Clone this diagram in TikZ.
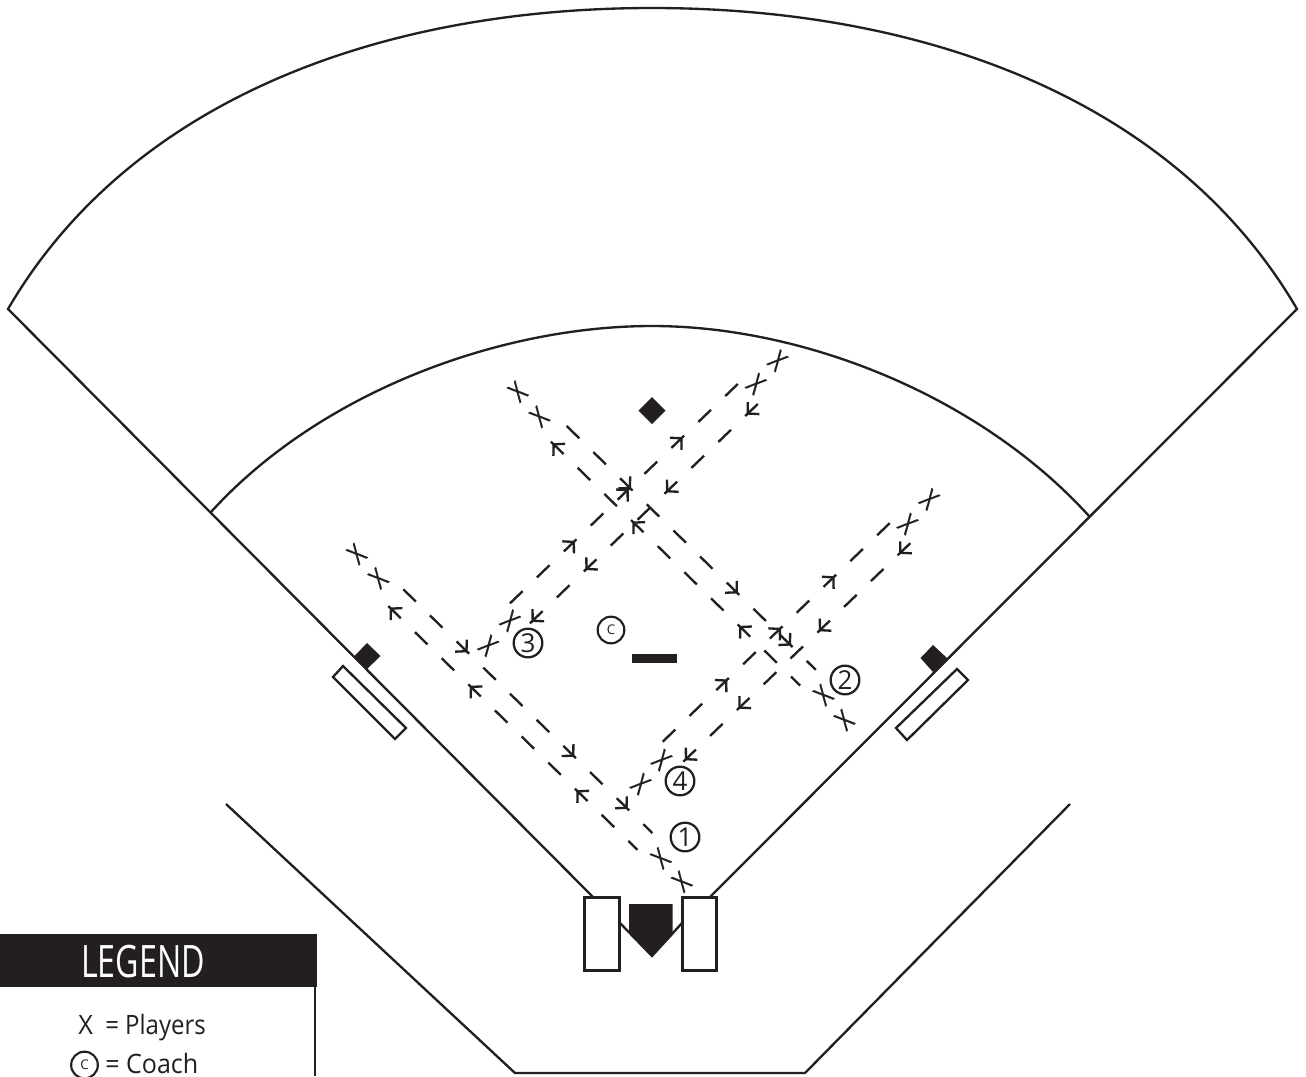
\documentclass[tikz,border=0pt]{standalone}
\usepackage{fontspec}
\setmainfont{Open Sans}
\newfontfamily\markfont[FakeBold=0.6]{Open Sans}
\definecolor{ink}{HTML}{231F20}
\tikzset{
  field/.style={draw=ink,line width=1.75pt,line join=miter},
  solidbase/.style={fill=ink,draw=none},
  dashseg/.style={draw=ink,line width=1.75pt},
  playerl/.style={text=ink,inner sep=0pt,font=\markfont\fontsize{21pt}{21pt}\selectfont,rotate=42},
  playerr/.style={text=ink,inner sep=0pt,font=\markfont\fontsize{21pt}{21pt}\selectfont,rotate=-42},
  station/.style={circle,draw=ink,line width=1.7pt,text=ink,minimum size=21.5pt,inner sep=0pt,font=\fontsize{19.5pt}{19.5pt}\selectfont},
  coachmark/.style={circle,draw=ink,line width=1.6pt,text=ink,minimum size=20pt,inner sep=0pt,font=\fontsize{10pt}{10pt}\selectfont},
  legendtext/.style={text=ink,inner sep=0pt,anchor=base west,font=\fontsize{20pt}{20pt}\selectfont}
}
\newcommand\setrun[4]{\def\rx{#1}\def\ry{#2}\def\tx{#3}\def\ty{#4}}
\newcommand\plainD[1]{\foreach \i in {#1}{\draw[dashseg] ({\rx+\i*\tx},{\ry+\i*\ty}) -- ++({.47*\tx},{.47*\ty});}}
\newcommand\shortD[1]{\foreach \i in {#1}{\draw[dashseg] ({\rx+\i*\tx},{\ry+\i*\ty}) -- ++({.34*\tx},{.34*\ty});}}
% arrow whose tip is the far end of the dash: barbs meet the stem a little behind the tip
\newcommand\tipF[1]{\foreach \i in {#1}{%
  \draw[dashseg] ({\rx+\i*\tx},{\ry+\i*\ty}) -- ++({.47*\tx},{.47*\ty});
  \draw[dashseg] ({\rx+(\i+.47-.31)*\tx-.225*\ty},{\ry+(\i+.47-.31)*\ty+.225*\tx}) -- ({\rx+(\i+.47-.1)*\tx},{\ry+(\i+.47-.1)*\ty}) -- ({\rx+(\i+.47-.31)*\tx+.225*\ty},{\ry+(\i+.47-.31)*\ty-.225*\tx});}}
% arrow whose tip is the near end of the dash
\newcommand\tipB[1]{\foreach \i in {#1}{%
  \draw[dashseg] ({\rx+\i*\tx},{\ry+\i*\ty}) -- ++({.47*\tx},{.47*\ty});
  \draw[dashseg] ({\rx+(\i+.31)*\tx-.225*\ty},{\ry+(\i+.31)*\ty+.225*\tx}) -- ({\rx+(\i+.1)*\tx},{\ry+(\i+.1)*\ty}) -- ({\rx+(\i+.31)*\tx+.225*\ty},{\ry+(\i+.31)*\ty-.225*\tx});}}
\newcommand\xglyph{\scalebox{.78}[1]{X}}
\begin{document}
\begin{tikzpicture}[x=.75pt,y=-.75pt]
\useasboundingbox (0,0) rectangle (1306,1076);
\clip (0,0) rectangle (1306,1076);
\fill[white] (0,0) rectangle (1306,1076);
% outfield boundary and foul lines
\draw[field] (593,897) -- (8,309)
  .. controls (130,100) and (380,8) .. (652,8)
  .. controls (925,8) and (1175,100) .. (1297,309)
  -- (710,897);
% infield arc
\draw[field] (211,512) .. controls (320,392) and (500,326) .. (652,326)
  .. controls (804,326) and (980,396) .. (1089,516);
% backstop
\draw[field] (226,804) -- (515,1073) -- (805,1073) -- (1070,804);
% home plate area
\draw[field] (620,923) -- (652,956) -- (682,923);
\fill[solidbase] (629,904) -- (672.5,904) -- (672.5,935) -- (652,956) -- (629,933) -- cycle;
\draw[field] (584.5,897.5) rectangle (619.5,970.5);
\draw[field] (682.5,897.5) rectangle (716.5,970.5);
% bases, coach boxes, rubber
\fill[solidbase] (652,397) -- (665.5,410.5) -- (652,424) -- (638.5,410.5) -- cycle;
\fill[solidbase] (367,643) -- (380.5,656) -- (367,669) -- (354.5,656) -- cycle;
\fill[solidbase] (933,645) -- (947,658) -- (933,672) -- (920.5,658) -- cycle;
\draw[field] (343,666) -- (406,728) -- (395,739) -- (333,677) -- cycle;
\draw[field] (957,669) -- (968,680) -- (907,740) -- (896,728) -- cycle;
\fill[solidbase] (632,654) rectangle (677,663);
% dashed runs
\setrun{510}{603.3}{26.9}{-25.9}\plainD{0,1,3,5,7,8}\tipF{2,4,6}
\setrun{530}{623.3}{26.9}{-25.9}\plainD{1,3,4,6,7}\tipB{0,2,5,8}
\setrun{662.7}{741.7}{26.8}{-25.8}\plainD{0,1,3,5,7,8}\tipF{2,4,6}
\setrun{683.3}{761.7}{26.8}{-25.8}\plainD{1,3,4,6,7}\tipB{0,2,5,8}
\setrun{566.7}{426}{26.67}{26.1}\plainD{0,1,3,4,5,7}\tipF{2,6,8}\shortD{9}
\setrun{551}{441.7}{26.67}{26.1}\plainD{1,2,4,5,6,8}\tipB{0,3,7}\shortD{9}
\setrun{403.3}{589.3}{26.67}{26.1}\plainD{0,1,3,4,5,7}\tipF{2,6,8}\shortD{9}
\setrun{388.3}{606}{26.67}{26.1}\plainD{1,2,4,5,6,8}\tipB{0,3,7}\shortD{9}
% players
\node[playerl] (p1) at (356.7,554) {\xglyph};
\node[playerl] (p2) at (378.3,578.3) {\xglyph};
\node[playerl] (p3) at (517.7,391.7) {\xglyph};
\node[playerl] (p4) at (539.3,416.7) {\xglyph};
\node[playerl] (p5) at (660.7,858.3) {\xglyph};
\node[playerl] (p6) at (681.7,881.7) {\xglyph};
\node[playerl] (p7) at (823.3,695) {\xglyph};
\node[playerl] (p8) at (844.3,720) {\xglyph};
\node[playerr] (q1) at (777.7,360.7) {\xglyph};
\node[playerr] (q2) at (756,384) {\xglyph};
\node[playerr] (q3) at (510,620.7) {\xglyph};
\node[playerr] (q4) at (488.3,645.7) {\xglyph};
\node[playerr] (q5) at (661.7,760) {\xglyph};
\node[playerr] (q6) at (640.7,784) {\xglyph};
\node[playerr] (q7) at (929.3,499.3) {\xglyph};
\node[playerr] (q8) at (907.7,524) {\xglyph};
% stations and coach
\node[station] (s1) at (685,837) {1};
\node[station] (s2) at (845,680) {2};
\node[station] (s3) at (528,643) {3};
\node[station] (s4) at (680,781) {4};
\node[coachmark] (coach) at (611,630) {C};
% legend
\fill[ink] (0,934) rectangle (316.5,987);
\draw[field] (315,987) -- (315,1076);
\node[text=white,inner sep=0pt,font=\fontsize{33.5pt}{33.5pt}\selectfont] (legendtitle) at (143,962) {\scalebox{.72}[1]{LEGEND}};
\node[legendtext] (legx) at (78,1034) {\scalebox{.95}[1]{X}};
\node[legendtext] (legp) at (105,1034) {\scalebox{.9}[1]{= Players}};
\node[coachmark] (legc) at (84.5,1065) {C};
\node[legendtext] (legco) at (105,1073) {\scalebox{.94}[1]{= Coach}};
\end{tikzpicture}
\end{document}
